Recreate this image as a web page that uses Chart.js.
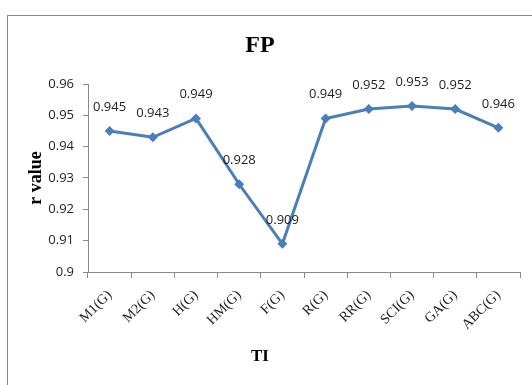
<!DOCTYPE html>
<html>
<head>
<meta charset="utf-8">
<script src="https://cdn.jsdelivr.net/npm/chart.js@4.4.0/dist/chart.umd.min.js"></script>
<style>
  html, body { margin: 0; padding: 0; background: #fff; overflow: hidden; }
  #wrap { position: relative; width: 532px; height: 385px; }
  #frame { position: absolute; left: 7px; top: 15px; width: 600px; height: 400px;
           border-left: 1.5px solid #8a8a8a; border-top: 1.5px solid #8a8a8a; pointer-events: none; }
</style>
</head>
<body>
<div id="wrap">
  <canvas id="c" width="532" height="385"></canvas>
  <div id="frame"></div>
</div>
<script>
const categories = ['M1(G)', 'M2(G)', 'H(G)', 'HM(G)', 'F(G)', 'R(G)', 'RR(G)', 'SCI(G)', 'GA(G)', 'ABC(G)'];
const rValues = [0.945, 0.943, 0.949, 0.928, 0.909, 0.949, 0.952, 0.953, 0.952, 0.946];
const yTicks = [0.9, 0.91, 0.92, 0.93, 0.94, 0.95, 0.96];
const chartTitle = 'FP';
const xTitle = 'TI';
const yTitle = 'r value';

const lineBlue = '#4a7ebb';
const axisGrey = '#898989';

const dataLabels = {
  id: 'dataLabels',
  afterDatasetsDraw(chart) {
    const ctx = chart.ctx;
    const meta = chart.getDatasetMeta(0);
    const values = chart.data.datasets[0].data;
    ctx.save();
    ctx.font = '13px "Open Sans"';
    ctx.fillStyle = '#1e1e1e';
    ctx.textAlign = 'center';
    ctx.textBaseline = 'middle';
    meta.data.forEach((pt, i) => {
      ctx.fillText(values[i].toFixed(3), pt.x, pt.y - 24);
    });
    ctx.restore();
  }
};

new Chart(document.getElementById('c'), {
  type: 'line',
  data: {
    labels: categories,
    datasets: [{
      data: rValues,
      borderColor: lineBlue,
      backgroundColor: lineBlue,
      borderWidth: 3,
      tension: 0,
      pointStyle: 'rectRot',
      pointRadius: 5,
      pointBorderWidth: 0,
      pointBackgroundColor: lineBlue,
      clip: false
    }]
  },
  options: {
    responsive: false,
    animation: false,
    devicePixelRatio: 1,
    layout: { padding: { left: 0, right: 12, top: 0, bottom: 0 } },
    plugins: {
      legend: { display: false },
      tooltip: { enabled: false },
      title: {
        display: true,
        text: chartTitle,
        color: '#000',
        font: { family: '"Liberation Serif"', size: 24, weight: 'bold', lineHeight: 1.2 },
        padding: { top: 31.6, bottom: 23.6 }
      },
      subtitle: {
        display: true,
        position: 'bottom',
        text: xTitle,
        color: '#000',
        font: { family: '"Liberation Serif"', size: 17, weight: 'bold', lineHeight: 1.2 },
        padding: { top: 0, bottom: 17.8 }
      }
    },
    scales: {
      x: {
        type: 'category',
        offset: true,
        afterFit(scale) { scale.height = 74.8; },
        grid: { offset: true, drawOnChartArea: false, drawTicks: true, tickLength: 6, color: axisGrey },
        border: { display: true, color: axisGrey, width: 1 },
        ticks: {
          autoSkip: false,
          minRotation: 45,
          maxRotation: 45,
          padding: 9,
          color: '#1e1e1e',
          font: { family: '"Liberation Serif"', size: 14 }
        }
      },
      y: {
        min: yTicks[0],
        max: yTicks[yTicks.length - 1],
        afterFit(scale) { scale.width = 88; },
        afterBuildTicks(scale) { scale.ticks = yTicks.map(v => ({ value: v })); },
        grid: { drawOnChartArea: false, drawTicks: true, tickLength: 5, color: axisGrey },
        border: { display: true, color: axisGrey, width: 1 },
        title: {
          display: true,
          text: yTitle,
          color: '#000',
          font: { family: '"Liberation Serif"', size: 18, weight: 'bold', lineHeight: 1.2 },
          padding: { top: 26, bottom: 0 }
        },
        ticks: {
          padding: 9,
          color: '#1e1e1e',
          font: { family: '"Open Sans"', size: 13 },
          callback: v => String(+Number(v).toFixed(2))
        }
      }
    }
  },
  plugins: [dataLabels]
});
</script>
</body>
</html>
